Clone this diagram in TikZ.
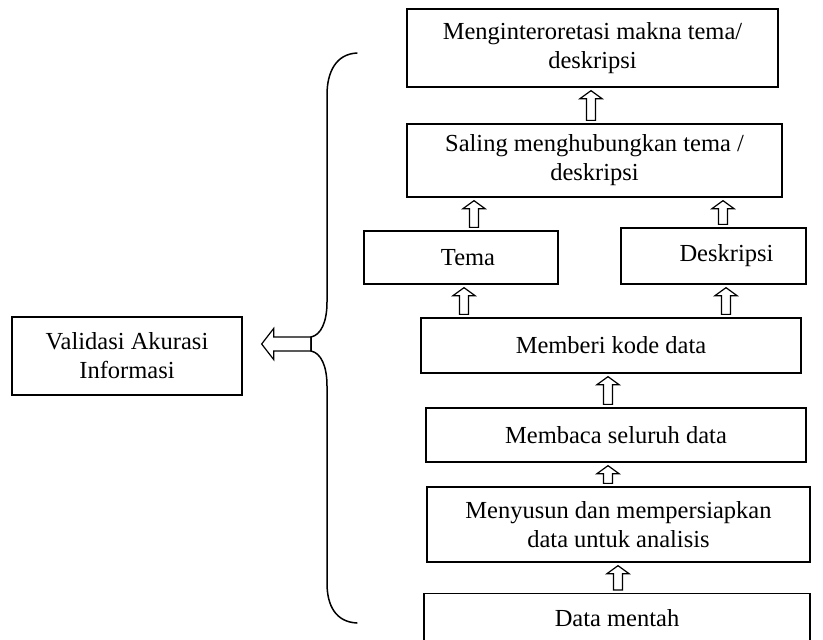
\documentclass[tikz,border=0pt]{standalone}
\usepackage{fontspec}
\setmainfont{Liberation Serif}
\usetikzlibrary{calc}
\tikzset{
  box/.style={draw, line width=1.3pt, inner sep=0pt, align=center,
    font=\fontsize{24.5}{29}\selectfont},
  sbox/.style={draw, line width=1.3pt, inner sep=0pt,
    font=\fontsize{24.5}{29}\selectfont},
  arr/.style={draw, line width=1.2pt, line join=miter, fill=white},
  bracestyle/.style={draw, line width=1.5pt, line cap=round}
}
\newcommand\blkup[3]{%
  \path[arr] let \p1=(#2), \p2=(#3) in
   ({#1pt-4.5pt},{\y1+3pt}) -- ({#1pt-4.5pt},{\y2-11pt}) -- ({#1pt-11pt},{\y2-11pt})
   -- ({#1pt},{\y2-3pt}) -- ({#1pt+11pt},{\y2-11pt}) -- ({#1pt+4.5pt},{\y2-11pt})
   -- ({#1pt+4.5pt},{\y1+3pt}) -- cycle;}
\begin{document}
\begin{tikzpicture}[x=1pt,y=-1pt]
\useasboundingbox (0,0) rectangle (823,640);
\clip (0,0) rectangle (823,640);
\fill[white] (0,0) rectangle (823,640);

\node[box, minimum width=371pt, minimum height=78pt] (interp) at (592.5,48)
  {Menginteroretasi makna tema/\\deskripsi};
\node[box, minimum width=375pt, minimum height=73pt] (saling) at (594.5,160.5)
  {Saling menghubungkan tema /\\deskripsi};
\node[sbox, minimum width=194pt, minimum height=53pt] (tema) at (461,257.5)
  {\hspace*{14pt}Tema};
\node[sbox, minimum width=185pt, minimum height=56pt] (desk) at (713.5,256)
  {\raisebox{3pt}{\hspace*{26pt}Deskripsi}};
\node[box, minimum width=380pt, minimum height=55pt] (kode) at (611,345.5)
  {Memberi kode data};
\node[box, minimum width=380pt, minimum height=54pt] (baca) at (616,435)
  {Membaca seluruh data};
\node[box, minimum width=383pt, minimum height=75pt] (susun) at (618.5,524.5)
  {Menyusun dan mempersiapkan\\data untuk analisis};
\node[sbox, minimum width=386pt, minimum height=52pt, anchor=north] (mentah) at (617,593)
  {\raisebox{4pt}{Data mentah}};
\node[box, minimum width=230pt, minimum height=78pt] (valid) at (127,356)
  {Validasi Akurasi\\Informasi};

\blkup{591}{saling.north}{interp.south}
\blkup{474}{tema.north}{saling.south}
\blkup{723}{desk.north}{saling.south}
\blkup{464}{kode.north}{tema.south}
\blkup{726}{kode.north}{desk.south}
\blkup{608}{baca.north}{kode.south}
\blkup{608}{susun.north}{baca.south}
\blkup{618}{mentah.north}{susun.south}

\coordinate (cusp) at (311,344);
\path[arr] let \p1=(cusp), \p2=(valid.east) in
  (\x1,\y1+7pt) -- (\x2+31pt,\y1+7pt) -- (\x2+31pt,\y1+15.5pt) -- (\x2+19pt,\y1)
  -- (\x2+31pt,\y1-15.5pt) -- (\x2+31pt,\y1-7pt) -- (\x1,\y1-7pt) -- cycle;

\draw[bracestyle] (357,53) .. controls (336,54) and (327,72) .. (327,95)
  -- (327,302) .. controls (327,322) and (321,335) .. (311,337)
  -- (311,351) .. controls (321,353) and (327,366) .. (327,386)
  -- (327,583) .. controls (327,606) and (336,622) .. (357,623);
\end{tikzpicture}
\end{document}
